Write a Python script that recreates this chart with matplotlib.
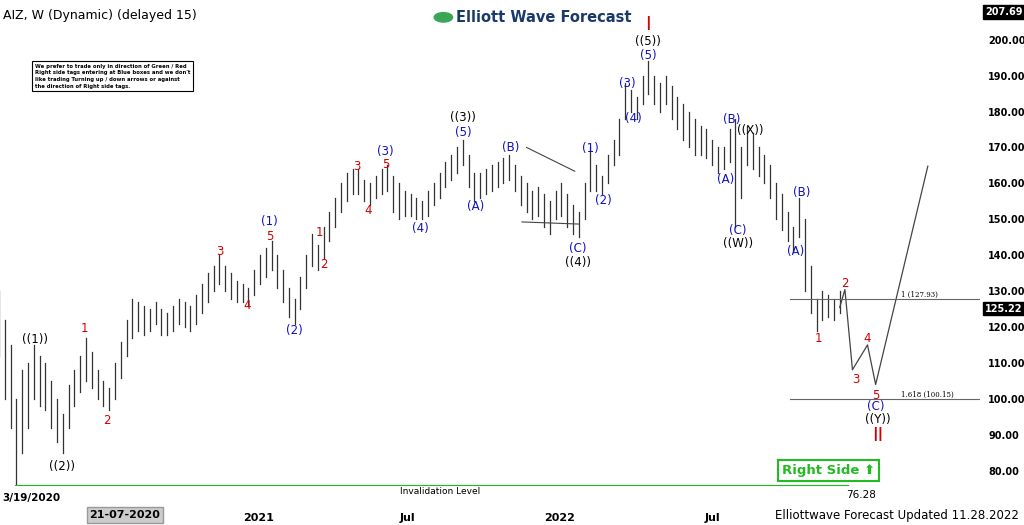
import matplotlib
matplotlib.use("Agg")
import matplotlib.pyplot as plt

highs = [130,122,115,100,108,110,115,112,110,105,100,96,104,108,112,117,113,108,105,103,
         110,116,122,128,127,126,125,127,125,124,126,128,127,126,129,132,135,137,140,137,
         135,133,132,131,136,140,142,144,140,136,131,128,134,140,146,143,148,152,156,160,
         163,164,164,161,160,162,164,165,162,160,158,157,156,155,158,160,163,166,168,170,
         172,168,163,163,164,165,166,167,168,165,162,160,158,159,157,155,158,160,157,154,
         152,160,170,165,162,168,172,178,188,186,184,190,194,190,188,190,187,184,182,180,
         178,176,175,172,170,170,175,178,170,176,174,170,168,165,160,157,152,148,156,150,
         137,128,130,129,128,130]
lows = [112,100,92,76.3,85,92,100,98,97,92,88,85,92,98,102,105,103,100,98,97,
        100,106,112,117,119,118,119,121,118,118,119,121,120,119,121,124,127,130,132,130,
        128,127,127,126,129,132,134,136,131,127,123,121,125,131,137,136,139,144,148,152,
        155,157,157,155,154,156,157,158,152,150,151,151,150,150,151,154,156,159,161,163,
        165,159,155,156,157,158,159,160,161,158,154,152,150,151,148,146,150,151,148,146,
        145,150,158,158,157,160,165,168,178,180,178,182,185,182,180,182,178,175,172,170,
        168,168,167,165,163,164,166,148,156,165,164,162,160,156,150,147,144,141,145,130,
        124,119,122,123,122,124]

proj_w = [145, 145.9, 147.2, 149.8, 151.2, 160.2]
proj_p = [125.5, 130.5, 108.2, 115.1, 104.1, 164.8]

labels = [("((1))",6.2,116.5,"k"),("((2))",10.9,81.3,"k"),("1",14.8,119.8,"r"),("2",18.6,94,"r"),
          ("3",38.1,141.2,"r"),("4",42.8,126.1,"r"),("(1)",46.7,149.3,"b"),("5",46.7,145.3,"r"),
          ("(2)",51,119.2,"b"),("1",55.3,146.4,"r"),("2",56,137.4,"r"),("3",61.7,164.8,"r"),
          ("4",63.6,152.5,"r"),("(3)",66.7,168.9,"b"),("5",66.7,165.2,"r"),("(4)",72.6,147.5,"b"),
          ("((3))",80,178.2,"k"),("(5)",80,174.2,"b"),("(A)",82.2,153.6,"b"),("(B)",88.3,170,"b"),
          ("(C)",99.8,141.8,"b"),("((4))",99.8,138.0,"k"),("(1)",102,169.8,"b"),("(2)",104.3,155.2,"b"),
          ("(3)",108.4,187.9,"b"),("(4)",109.5,178,"b"),("(5)",112,195.6,"b"),("((5))",112,199.5,"k"),
          ("(B)",126.4,177.7,"b"),("((X))",129.5,174.7,"k"),("(A)",125.3,161,"b"),("(C)",127.4,147,"b"),
          ("((W))",127.4,143.2,"k"),("(B)",138.4,157.4,"b"),("(A)",137.4,141.2,"b"),("2",145.9,132.1,"r"),
          ("1",141.4,116.8,"r"),("3",147.8,105.5,"r"),("4",149.7,116.8,"r"),("5",151.2,101.1,"r"),
          ("(C)",151.2,98.0,"b"),("((Y))",151.5,94.3,"k")]
colmap = {"k":"black","r":"#d40000","b":"#1010c0"}

W, H = 1024, 525
fig = plt.figure(figsize=(W/100, H/100), dpi=100)
ax = fig.add_axes([0, 20/H, 980/W, 505/H])
ax.set_xlim(0.17, 169.2)
ax.set_ylim(70.6, 211)
for s in ax.spines.values():
    s.set_visible(False)
ax.set_xticks([44.7, 70.5, 96.7, 123.1])
ax.set_xticklabels(["2021", "Jul", "2022", "Jul"], fontsize=8, fontweight="bold")
ax.tick_params(axis="x", length=0, pad=6)
ax.yaxis.tick_right()
ax.set_yticks(range(80, 201, 10))
ax.set_yticklabels([f"{v:.2f}" for v in range(80, 201, 10)], fontsize=7, fontweight="bold")
ax.tick_params(axis="y", length=0, pad=6)

for i, (h, l) in enumerate(zip(highs, lows)):
    ax.plot([i, i], [l, h], color="#333333", lw=0.9)

ax.plot(proj_w, proj_p, color="#444444", lw=0.9)
ax.plot([91.0, 99.3], [170, 163.4], color="#444444", lw=0.8)
ax.plot([90.2, 100.1], [149.3, 148.7], color="#444444", lw=0.8)

for t, w, p, c in labels:
    ax.text(w, p, t, color=colmap[c], ha="center", va="center", fontsize=8.5)
ax.text(112, 204.3, "I", color="#d40000", ha="center", va="center", fontsize=14)
ax.text(151.5, 89.8, "II", color="#d40000", ha="center", va="center", fontsize=14)

ax.plot([136.4, 169.2], [127.93, 127.93], color="#666666", lw=0.8)
ax.plot([136.4, 169.2], [100.15, 100.15], color="#666666", lw=0.8)
ax.text(155.5, 128.5, "1 (127.93)", fontsize=5, family="DejaVu Serif")
ax.text(155.5, 100.7, "1.618 (100.15)", fontsize=5, family="DejaVu Serif")

ax.plot([2.8, 146.4], [76.28, 76.28], color="#22bb22", lw=0.8)
ax.text(76, 75.7, "Invalidation Level", fontsize=6.5, ha="center", va="top")
ax.text(148.7, 74.8, "76.28", fontsize=7.5, ha="center", va="top")
ax.text(0.6, 74.0, "3/19/2020", fontsize=7.5, fontweight="bold", va="top")

def pricebox(y, txt):
    ax.text(1.005, (y-70.6)/(211-70.6), txt, transform=ax.transAxes, fontsize=7, fontweight="bold",
            color="white", va="center", ha="left", clip_on=False,
            bbox=dict(boxstyle="square,pad=0.2", fc="black", ec="black"))
pricebox(207.69, "207.69")
pricebox(125.22, "125.22")

fig.text(0.003, 0.97, "AIZ, W (Dynamic) (delayed 15)", fontsize=9, va="center")
fig.text(0.445, 0.967, "Elliott Wave Forecast", fontsize=10.5, fontweight="bold", color="#1a3a6a", va="center")
fig.patches.append(plt.Circle((0.433, 0.967), 0.009, transform=fig.transFigure, color="#3aa655"))
fig.text(0.034, 0.855, "We prefer to trade only in direction of Green / Red\nRight side tags entering at Blue boxes and we don't\n"
         "like trading Turning up / down arrows or against\nthe direction of Right side tags.",
         fontsize=3.8, fontweight="bold", va="center", linespacing=1.4,
         bbox=dict(boxstyle="square,pad=0.5", fc="white", ec="black", lw=0.8))
fig.text(0.809, 0.104, "Right Side \u2b06", fontsize=9.5, fontweight="bold", color="#22bb22", ha="center", va="center",
         bbox=dict(boxstyle="square,pad=0.3", fc="white", ec="#22bb22", lw=1.5))
fig.text(0.122, 0.019, "21-07-2020", fontsize=8, fontweight="bold", ha="center", va="center",
         bbox=dict(boxstyle="square,pad=0.25", fc="#cccccc", ec="#999999"))
fig.text(0.995, 0.019, "Elliottwave Forecast Updated 11.28.2022", fontsize=8.5, ha="right", va="center")

fig.savefig("out.png", dpi=100)
